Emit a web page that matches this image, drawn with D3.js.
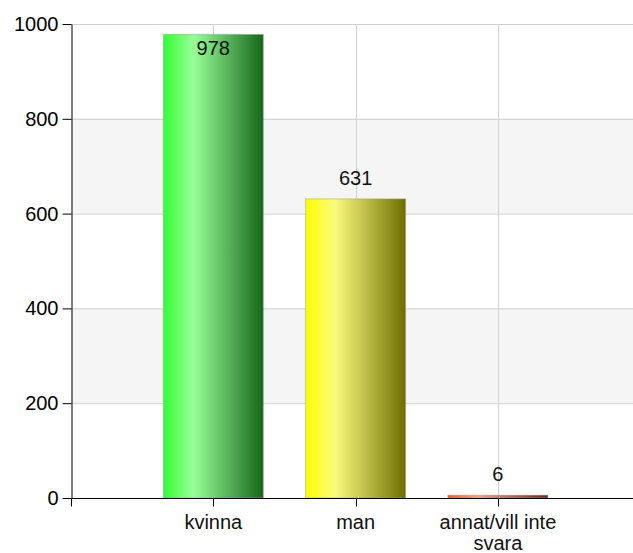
<!DOCTYPE html>
<html>
<head>
<meta charset="utf-8">
<script src="https://cdn.jsdelivr.net/npm/d3@7"></script>
<style>
  body { margin: 0; background: #fff; }
  svg { display: block; font-family: "Liberation Sans", Arial, sans-serif; }
</style>
</head>
<body>
<div id="chart"></div>
<script>
// Chart data
const categories = ['kvinna', 'man', 'annat/vill inte svara'];
const values = [978, 631, 6];
const yTicks = [0, 200, 400, 600, 800, 1000];
// gradient stops per bar: [left, highlight, right]
const barColors = [
    ['#33ff33', '#99ff99', '#16661a'],
    ['#ffff00', '#fafa80', '#6e6e00'],
    ['#f05a28', '#f5a585', '#6b2a18']
];

const width = 633;
const height = 553;
const margin = { top: 24, right: 0, bottom: 55, left: 71 };

const svg = d3.select('#chart')
    .append('svg')
    .attr('width', width)
    .attr('height', height);

const y = d3.scaleLinear()
    .domain([0, 1000])
    .range([height - margin.bottom, margin.top]);

// categories sit on slots 1..3 of a 0..4 point scale
const x = d3.scaleLinear()
    .domain([0, 4])
    .range([margin.left, margin.left + 4 * 142.3]);

const barWidth = 100;

// Gradients
const defs = svg.append('defs');
barColors.forEach((c, i) => {
    const grad = defs.append('linearGradient')
        .attr('id', 'grad' + i)
        .attr('x1', '0%').attr('x2', '100%')
        .attr('y1', '0%').attr('y2', '0%');
    grad.append('stop').attr('offset', '0%').attr('stop-color', c[0]);
    grad.append('stop').attr('offset', '30%').attr('stop-color', c[1]);
    grad.append('stop').attr('offset', '100%').attr('stop-color', c[2]);
});

// Alternating bands
const bands = [[600, 800], [200, 400]];
svg.append('g')
    .selectAll('rect')
    .data(bands)
    .join('rect')
    .attr('x', margin.left)
    .attr('y', d => y(d[1]))
    .attr('width', width - margin.left)
    .attr('height', d => y(d[0]) - y(d[1]))
    .attr('fill', '#f5f5f5');

// Horizontal grid
svg.append('g')
    .selectAll('line')
    .data(yTicks.filter(d => d > 0))
    .join('line')
    .attr('x1', margin.left)
    .attr('x2', width)
    .attr('y1', d => y(d) + 0.5)
    .attr('y2', d => y(d) + 0.5)
    .attr('stroke', '#d0d0d0')
    .attr('stroke-width', 1);

// Vertical grid at category positions
svg.append('g')
    .selectAll('line')
    .data(categories)
    .join('line')
    .attr('x1', (d, i) => Math.round(x(i + 1)) + 0.5)
    .attr('x2', (d, i) => Math.round(x(i + 1)) + 0.5)
    .attr('y1', y(1000))
    .attr('y2', y(0))
    .attr('stroke', '#d0d0d0')
    .attr('stroke-width', 1);

// Bars
svg.append('g')
    .selectAll('rect')
    .data(values)
    .join('rect')
    .attr('x', (d, i) => x(i + 1) - barWidth / 2)
    .attr('y', d => y(d))
    .attr('width', barWidth)
    .attr('height', d => y(0) - y(d))
    .attr('fill', (d, i) => `url(#grad${i})`)
    .attr('stroke', '#999')
    .attr('stroke-opacity', 0.5)
    .attr('stroke-width', 1);

// Value labels
svg.append('g')
    .selectAll('text')
    .data(values)
    .join('text')
    .attr('x', (d, i) => x(i + 1))
    .attr('y', d => y(d) < margin.top + 30 ? y(d) + 21 : y(d) - 14)
    .attr('text-anchor', 'middle')
    .attr('font-size', '20px')
    .attr('fill', '#111')
    .text(d => d);

// Y axis
const yAxis = svg.append('g')
    .attr('transform', `translate(${margin.left + 0.5},0)`)
    .call(d3.axisLeft(y).tickValues(yTicks).tickFormat(d3.format('d'))
        .tickSize(9).tickPadding(4).tickSizeOuter(0));
yAxis.select('.domain').attr('stroke', '#000');
yAxis.selectAll('.tick line').attr('stroke', '#000');
yAxis.selectAll('.tick text')
    .attr('font-size', '20px')
    .attr('font-family', '"Liberation Sans", Arial, sans-serif')
    .attr('fill', '#000');

// X axis baseline and ticks
const xAxis = svg.append('g')
    .attr('transform', `translate(0,${y(0) + 0.5})`);
xAxis.append('line')
    .attr('x1', margin.left)
    .attr('x2', width)
    .attr('stroke', '#000');
xAxis.selectAll('line.tick')
    .data([0, 1, 2, 3])
    .join('line')
    .attr('class', 'tick')
    .attr('x1', d => Math.round(x(d)) + 0.5)
    .attr('x2', d => Math.round(x(d)) + 0.5)
    .attr('y1', 0)
    .attr('y2', 8)
    .attr('stroke', '#000');

// Category labels (wrapped)
const labelLines = [['kvinna'], ['man'], ['annat/vill inte', 'svara']];
xAxis.selectAll('text')
    .data(labelLines)
    .join('text')
    .attr('text-anchor', 'middle')
    .attr('font-size', '20px')
    .attr('fill', '#111')
    .each(function(lines, i) {
        d3.select(this).selectAll('tspan')
            .data(lines)
            .join('tspan')
            .attr('x', x(i + 1))
            .attr('y', (l, j) => 30 + j * 21)
            .text(l => l);
    });
</script>
</body>
</html>
